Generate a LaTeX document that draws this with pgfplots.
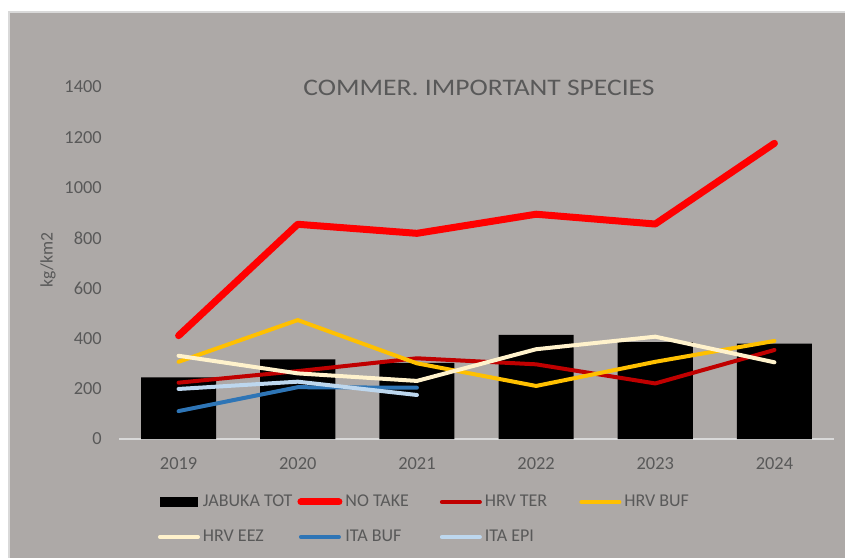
\documentclass[border=0pt]{standalone}
\usepackage{pgfplots}
\pgfplotsset{compat=1.18}
\usepackage{fontspec}
\setmainfont{Carlito}
\newfontfamily\titlefont{Carlito}[FakeStretch=1.16]
\definecolor{panelgray}{RGB}{173,169,167}
\definecolor{borderg}{RGB}{217,217,217}
\definecolor{txt}{RGB}{89,89,89}
\definecolor{notake}{RGB}{255,0,0}
\definecolor{hrvter}{RGB}{192,0,0}
\definecolor{hrvbuf}{RGB}{255,192,0}
\definecolor{hrveez}{RGB}{255,242,204}
\definecolor{itabuf}{RGB}{46,117,182}
\definecolor{itaepi}{RGB}{189,215,238}
\newcommand{\legtxt}[1]{\hspace*{2.25pt}\makebox[70.85pt][l]{#1}}
\begin{document}
\begin{tikzpicture}
\useasboundingbox (0,0) rectangle (633.75pt,417.75pt);
\fill[white] (0,0) rectangle (633.75pt,417.75pt);
\filldraw[fill=panelgray, draw=borderg, line width=1.5pt] (6.75pt,-5pt) rectangle (640pt,408.5pt);
\begin{axis}[
  at={(89.25pt,88.5pt)}, anchor=south west,
  scale only axis, width=536.25pt, height=264pt,
  xmin=-0.5, xmax=5.5, ymin=0, ymax=1400,
  xtick={0,1,2,3,4,5}, xticklabels={2019,2020,2021,2022,2023,2024},
  ytick={0,200,400,600,800,1000,1200,1400},
  axis lines*=left,
  x axis line style={draw=borderg, line width=1.1pt},
  y axis line style={draw=none},
  major tick length=0pt,
  /pgf/number format/assume math mode=true,
  /pgf/number format/1000 sep={},
  tick label style={font=\fontsize{13.8}{16}\selectfont, text=txt, inner sep=0pt},
  yticklabel style={anchor=east, xshift=-12.75pt},
  xticklabel style={anchor=base, yshift=-22.5pt},
  ylabel={kg/km2},
  ylabel style={at={(axis description cs:-0.0993,0.5085)}, anchor=center, font=\fontsize{13.2}{16}\selectfont, text=txt},
  title={\titlefont COMMER. IMPORTANT SPECIES},
  title style={at={(axis description cs:0.5035,0.9746)}, anchor=center, font=\fontsize{17.8}{20}\selectfont, text=txt},
  legend columns=4,
  legend cell align=left,
  legend style={at={(axis description cs:0.0545,-0.1543)}, anchor=north west,
    draw=none, fill=none, inner sep=0pt, outer sep=0pt,
    column sep=0pt, row sep=13.25pt,
    font=\fontsize{13.5}{16}\selectfont, text=txt,
    nodes={inner sep=0pt, text height=10pt, text depth=3pt}},
  every axis plot/.append style={line cap=round, line join=round},
  linelegend/.style={legend image code/.code={\path[draw=none,fill=none] (0,-5pt) rectangle (31.5pt,5pt); \draw (1.5pt,0) -- (30pt,0);}},
]
\addplot[ybar, bar width=0.63, fill=black, draw=none,
  legend image code/.code={\path[draw=none,fill=none] (0,-5pt) rectangle (31.5pt,5pt); \fill[black] (1.5pt,-4.1pt) rectangle (30pt,4.1pt);}]
  coordinates {(0,245) (1,317) (2,303) (3,414) (4,385) (5,379)};
\addlegendentry{\legtxt{JABUKA TOT}}
\addplot[notake, line width=5.25pt, linelegend] coordinates {(0,411) (1,854) (2,818) (3,894) (4,855) (5,1176)};
\addlegendentry{\legtxt{NO TAKE}}
\addplot[hrvter, line width=3pt, linelegend] coordinates {(0,224) (1,270) (2,321) (3,297) (4,221) (5,354)};
\addlegendentry{\legtxt{HRV TER}}
\addplot[hrvbuf, line width=3pt, linelegend] coordinates {(0,307) (1,473) (2,301) (3,211) (4,307) (5,390)};
\addlegendentry{\legtxt{HRV BUF}}
\addplot[hrveez, line width=3pt, linelegend] coordinates {(0,331) (1,261) (2,231) (3,357) (4,407) (5,305)};
\addlegendentry{\legtxt{HRV EEZ}}
\addplot[itabuf, line width=3pt, linelegend] coordinates {(0,111) (1,206) (2,204)};
\addlegendentry{\legtxt{ITA BUF}}
\addplot[itaepi, line width=3pt, linelegend] coordinates {(0,199) (1,228) (2,175)};
\addlegendentry{\legtxt{ITA EPI}}
\end{axis}
\end{tikzpicture}
\end{document}
